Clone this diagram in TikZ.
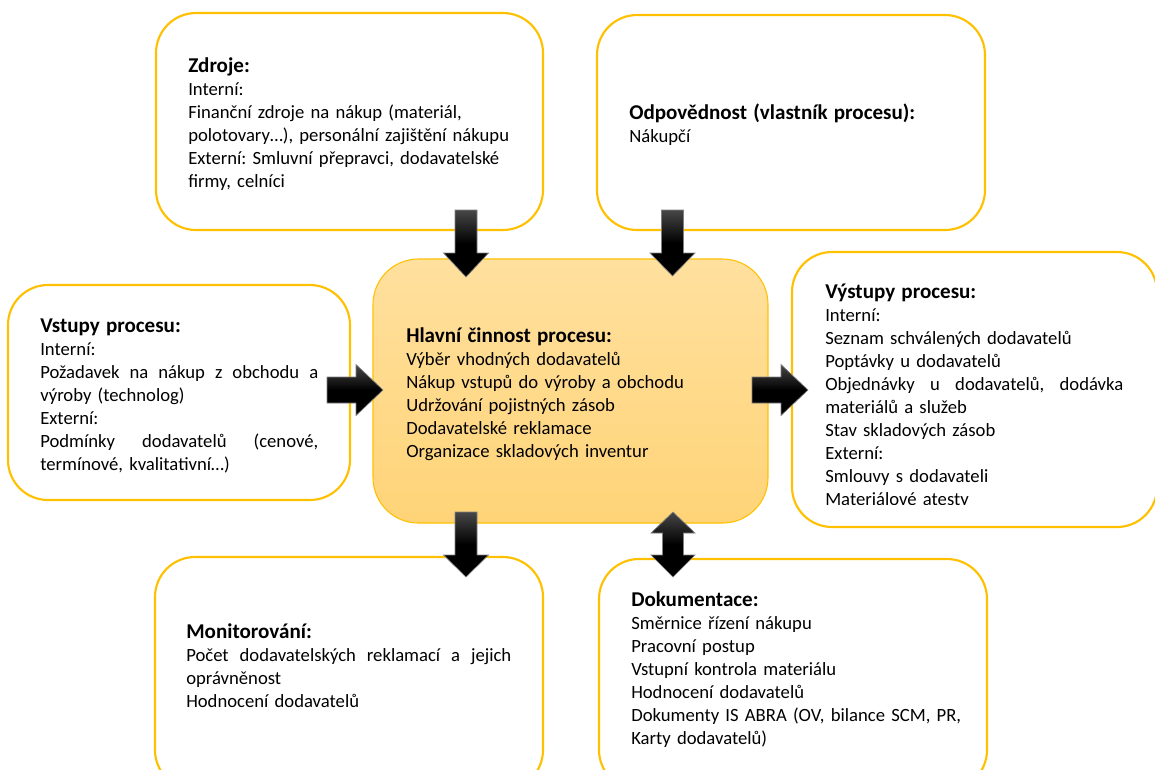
\documentclass[tikz,border=0pt]{standalone}
\usepackage{fontspec}
\setmainfont{Carlito}
\definecolor{gold}{HTML}{FFC000}
\definecolor{coretop}{RGB}{255,224,158}
\definecolor{corebot}{RGB}{255,212,120}
\newdimen\pxu \pxu=0.75pt
\frenchspacing
% a line spread to a given width (justified line)
\newcommand\jl[2]{\leavevmode\hbox to #1\pxu{\spaceskip=0.23em plus 1fil\relax #2}}
% heading of a box
\newcommand\ttl[1]{{\fontsize{15.8}{17.25}\selectfont\bfseries #1}}
% block arrows: down, right and two-headed vertical
\newcommand\arrdown[4]{% cx, top, head base, tip
  \path[blk] (#1-11,#2) -- (#1+11,#2) -- (#1+11,#3) -- (#1+22.5,#3) -- (#1,#4)
    -- (#1-22.5,#3) -- (#1-11,#3) -- cycle;}
\newcommand\arrright[4]{% cy, left, head base, tip
  \path[blk] (#2,#1-13) -- (#3,#1-13) -- (#3,#1-25.5) -- (#4,#1) -- (#3,#1+25.5)
    -- (#3,#1+13) -- (#2,#1+13) -- cycle;}
\newcommand\arrboth[5]{% cx, top tip, upper head base, lower head base, bottom tip
  \path[blk] (#1,#2) -- (#1+22,#3) -- (#1+10.5,#3) -- (#1+10.5,#4) -- (#1+22,#4)
    -- (#1,#5) -- (#1-22,#4) -- (#1-10.5,#4) -- (#1-10.5,#3) -- (#1-22,#3) -- cycle;}
\begin{document}
\begin{tikzpicture}[x=0.75pt,y=-0.75pt,
  box/.style={draw=gold, line width=1.6pt, rounded corners=30pt, fill=white, inner sep=0pt},
  core/.style={draw=gold, line width=0.8pt, rounded corners=34pt, top color=coretop,
    bottom color=corebot, inner sep=0pt},
  txt/.style={anchor=base west, inner sep=0pt, align=left, text width=280pt,
    font=\fontsize{14}{17.25}\selectfont},
  blk/.style={draw=black!50, line width=0.5pt, top color=black!72, bottom color=black,
    middle color=black}]
\useasboundingbox (0,0) rectangle (1155,769);
\clip (0,0) rectangle (1155,769);

% boxes
\node[box, minimum width=387*0.75pt, minimum height=217*0.75pt] (zdroje) at (349.5,121.5) {};
\node[box, minimum width=388*0.75pt, minimum height=215*0.75pt] (odp) at (791,122.5) {};
\node[box, minimum width=342*0.75pt, minimum height=215*0.75pt] (vstupy) at (179,392.5) {};
\node[core, minimum width=395*0.75pt, minimum height=264*0.75pt] (hlavni) at (570.5,391) {};
\node[box, minimum width=365*0.75pt, minimum height=275*0.75pt] (vystupy) at (974.5,389.5) {};
\node[box, minimum width=388*0.75pt, minimum height=233*0.75pt] (monit) at (349,673.5) {};
\node[box, minimum width=388*0.75pt, minimum height=231*0.75pt] (dokum) at (793,674.5) {};

% texts
\node[txt] (tzdroje) at (188,72) {\ttl{Zdroje:}\\
Interní:\\
Finanční zdroje na nákup (materiál,\\
polotovary…), personální zajištění nákupu\\
Externí: Smluvní přepravci, dodavatelské\\
firmy, celníci};

\node[txt] (todp) at (629,119) {\ttl{Odpovědnost (vlastník procesu):}\\
Nákupčí};

\node[txt] (tvstupy) at (40,332) {\ttl{Vstupy procesu:}\\
Interní:\\
\jl{278}{Požadavek na nákup z obchodu a}\\
výroby (technolog)\\
Externí:\\
\jl{278}{Podmínky dodavatelů (cenové,}\\
termínové, kvalitativní…)};

\node[txt] (thlavni) at (406,342) {\ttl{Hlavní činnost procesu:}\\
Výběr vhodných dodavatelů\\
Nákup vstupů do výroby a obchodu\\
Udržování pojistných zásob\\
Dodavatelské reklamace\\
Organizace skladových inventur};

\begin{scope}
\clip (790,250) rectangle (1155,504.5);
\node[txt] (tvystupy) at (825,298) {\ttl{Výstupy procesu:}\\
Interní:\\
Seznam schválených dodavatelů\\
Poptávky u dodavatelů\\
\jl{298}{Objednávky u dodavatelů, dodávka}\\
materiálů a služeb\\
Stav skladových zásob\\
Externí:\\
Smlouvy s dodavateli\\
Materiálové atesty};
\end{scope}

\node[txt] (tmonit) at (186,638) {\ttl{Monitorování:}\\
\jl{325}{Počet dodavatelských reklamací a jejich}\\
oprávněnost\\
Hodnocení dodavatelů};

\node[txt] (tdokum) at (631,606) {\ttl{Dokumentace:}\\
Směrnice řízení nákupu\\
Pracovní postup\\
Vstupní kontrola materiálu\\
Hodnocení dodavatelů\\
Dokumenty IS ABRA (OV, bilance SCM, PR,\\
Karty dodavatelů)};

% block arrows
\arrdown{466}{210}{253}{277}
\arrdown{672.5}{210}{253}{276}
\arrright{390}{327}{356}{383}
\arrright{390}{752}{781}{808}
\arrdown{466}{512}{555}{577}
\arrboth{673}{512}{533}{555}{577}
\end{tikzpicture}
\end{document}
